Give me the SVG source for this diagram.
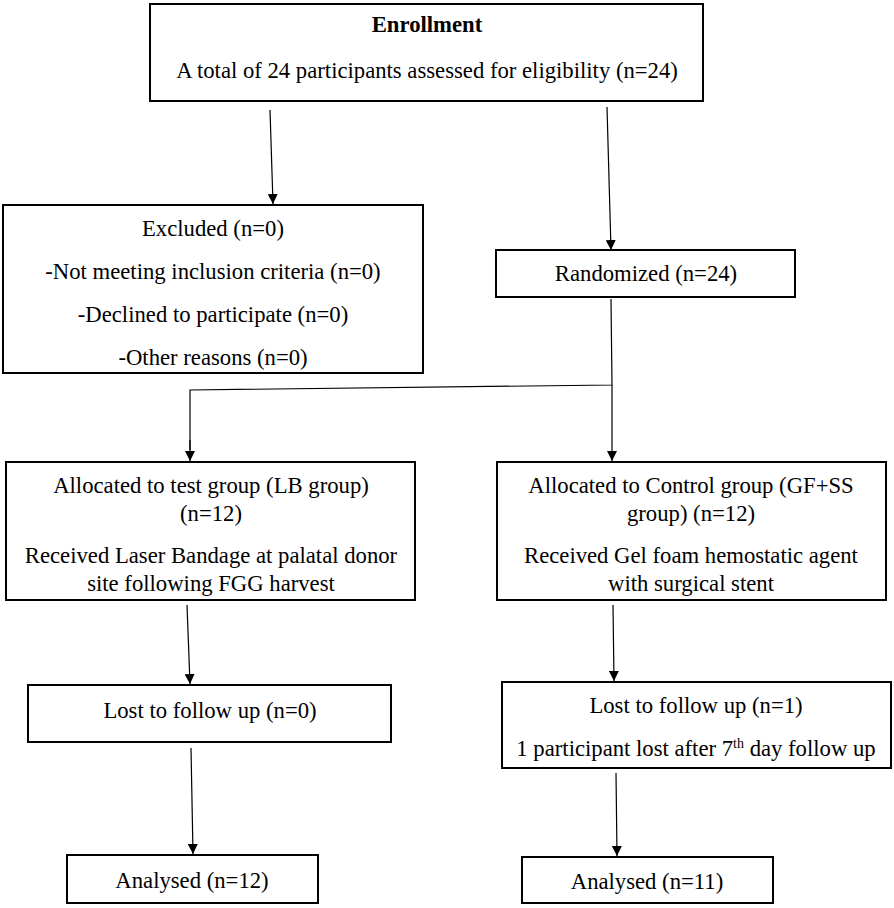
<svg xmlns="http://www.w3.org/2000/svg" width="894" height="908" viewBox="0 0 894 908">
<defs>
<marker id="ah" viewBox="0 0 10 10" refX="10" refY="5" markerWidth="10" markerHeight="10" markerUnits="userSpaceOnUse" orient="auto">
<path d="M0,0 L10,5 L0,10 Z" fill="#000"/>
</marker>
<style>
.box{fill:#fff;stroke:#000;stroke-width:2}
.t{font-size:22.7px;fill:#000;text-anchor:middle}
.b{font-weight:bold}
.c{fill:none;stroke:#000;stroke-width:1.2}
.a{marker-end:url(#ah)}
</style>
</defs>
<rect width="894" height="908" fill="#fff"/>
<g id="connectors">
<line class="c a" x1="270" y1="110" x2="273" y2="204"/>
<line class="c a" x1="607" y1="107" x2="611" y2="250"/>
<polyline class="c" points="611,299 612,385 190,390 190,450"/>
<line class="c a" x1="190" y1="440" x2="190" y2="461"/>
<line class="c a" x1="612" y1="385" x2="612" y2="461"/>
<line class="c a" x1="187" y1="605" x2="190" y2="684"/>
<line class="c a" x1="613" y1="605" x2="614" y2="681"/>
<line class="c a" x1="191" y1="748" x2="193" y2="854"/>
<line class="c a" x1="616" y1="773" x2="617" y2="856"/>
</g>
<g font-family="Liberation Serif, Times New Roman, serif">
<g id="enrollment">
<rect class="box" x="150" y="4" width="553" height="97"/>
<text class="t b" x="427" y="32">Enrollment</text>
<text class="t" x="427" y="78">A total of 24 participants assessed for eligibility (n=24)</text>
</g>
<g id="excluded">
<rect class="box" x="3" y="205" width="420" height="168"/>
<text class="t" x="213" y="236">Excluded (n=0)</text>
<text class="t" x="213" y="279">-Not meeting inclusion criteria (n=0)</text>
<text class="t" x="213" y="322">-Declined to participate (n=0)</text>
<text class="t" x="213" y="365">-Other reasons (n=0)</text>
</g>
<g id="randomized">
<rect class="box" x="496" y="250" width="299" height="47"/>
<text class="t" x="646" y="281">Randomized (n=24)</text>
</g>
<g id="alloc-test">
<rect class="box" x="6" y="462" width="409" height="138"/>
<text class="t" x="211" y="493">Allocated to test group (LB group)</text>
<text class="t" x="211" y="521">(n=12)</text>
<text class="t" x="211" y="563">Received Laser Bandage at palatal donor</text>
<text class="t" x="211" y="591">site following FGG harvest</text>
</g>
<g id="alloc-control">
<rect class="box" x="497" y="462" width="389" height="138"/>
<text class="t" x="691" y="493">Allocated to Control group (GF+SS</text>
<text class="t" x="691" y="521">group) (n=12)</text>
<text class="t" x="691" y="563">Received Gel foam hemostatic agent</text>
<text class="t" x="691" y="591">with surgical stent</text>
</g>
<g id="lost-test">
<rect class="box" x="28" y="685" width="363" height="57"/>
<text class="t" x="210" y="718">Lost to follow up (n=0)</text>
</g>
<g id="lost-control">
<rect class="box" x="502" y="682" width="389" height="86"/>
<text class="t" x="696" y="713">Lost to follow up (n=1)</text>
<text class="t" x="696" y="756">1 participant lost after 7<tspan dy="-8" font-size="14">th</tspan><tspan dy="8"> day follow up</tspan></text>
</g>
<g id="analysed-test">
<rect class="box" x="67" y="855" width="251" height="48"/>
<text class="t" x="192" y="888">Analysed (n=12)</text>
</g>
<g id="analysed-control">
<rect class="box" x="522" y="857" width="251" height="46"/>
<text class="t" x="647" y="889">Analysed (n=11)</text>
</g>
</g>
</svg>
